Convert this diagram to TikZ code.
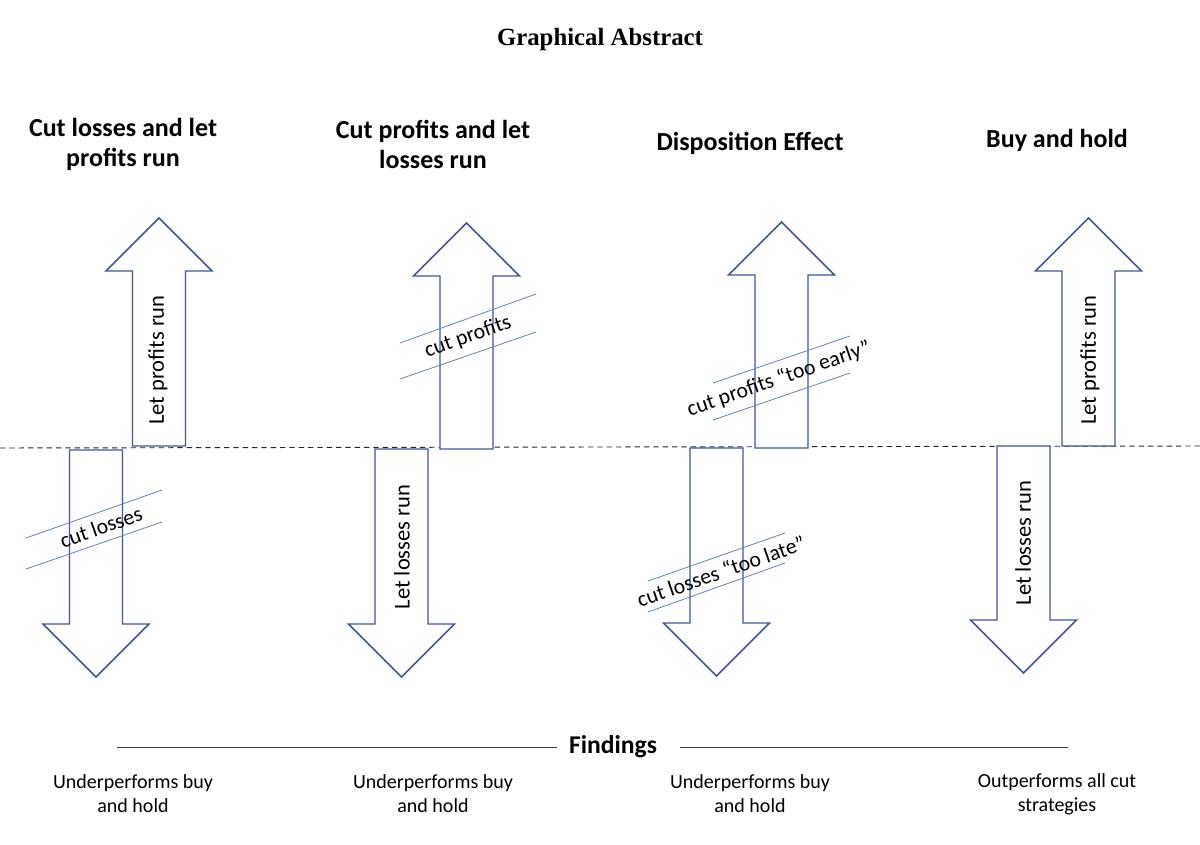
\documentclass[tikz,border=0pt]{standalone}
\usepackage{fontspec}
\setmainfont{Carlito}
\newfontfamily\timesfont{Liberation Serif}
\definecolor{arrowblue}{RGB}{66,86,155}
\definecolor{cutblue}{RGB}{98,128,200}
\definecolor{findgray}{RGB}{60,60,60}
\newcommand{\myUpArrow}[3]{%
  \draw[arr] ({#1-26.5},#3) -- ({#1-26.5},{#2+53}) -- ({#1-53},{#2+53}) -- (#1,#2)
    -- ({#1+53},{#2+53}) -- ({#1+26.5},{#2+53}) -- ({#1+26.5},#3) -- cycle;}
\newcommand{\myDownArrow}[3]{%
  \draw[arr] ({#1-26.5},#2) -- ({#1-26.5},{#3-53}) -- ({#1-53},{#3-53}) -- (#1,#3)
    -- ({#1+53},{#3-53}) -- ({#1+26.5},{#3-53}) -- ({#1+26.5},#2) -- cycle;}
\begin{document}
\begin{tikzpicture}[x=0.75pt,y=-0.75pt,
  arr/.style={draw=arrowblue, line width=1.1pt, fill=white, line join=miter},
  cutline/.style={draw=cutblue, line width=0.6pt},
  coltitle/.style={font=\fontsize{19.5}{22.5}\selectfont\bfseries, align=center, inner sep=0pt},
  arrlabel/.style={font=\fontsize{16.9}{20}\selectfont, rotate=90, inner sep=0pt},
  cutlabel/.style={font=\fontsize{16.3}{19}\selectfont, inner sep=0pt},
  findtext/.style={font=\fontsize{15}{18}\selectfont, align=center, inner sep=0pt},
  dashline/.style={draw=black!85, line width=0.7pt, dash pattern=on 4pt off 3pt},
  findline/.style={draw=findgray, line width=0.7pt}]
\useasboundingbox (0,0) rectangle (1200,845);

% title
\node[font=\timesfont\fontsize{18.6}{21}\selectfont\bfseries, inner sep=0pt] (title) at (600,40) {Graphical Abstract};

% column titles
\node[coltitle] (t1) at (123,144) {Cut losses and let\\profits run};
\node[coltitle] (t2) at (433,144) {Cut profits and let\\losses run};
\node[coltitle] (t3) at (750,143) {Disposition Effect};
\node[coltitle] (t4) at (1057,140) {Buy and hold};

% dashed baseline
\coordinate (dl) at (0,448);
\coordinate (dr) at (1200,446);
\draw[dashline] (dl) -- (dr);

% arrows
\myUpArrow{159}{218}{446}
\myDownArrow{96}{450}{677}
\myUpArrow{466.5}{223}{449}
\myDownArrow{401.5}{449}{677}
\myUpArrow{781.5}{222}{448}
\myDownArrow{716.5}{448}{676}
\myUpArrow{1088.5}{218}{446}
\myDownArrow{1023.5}{446}{673}

% arrow labels
\node[arrlabel] (lp1) at (158,360) {Let profits run};
\node[arrlabel] (ll2) at (402,547) {Let losses run};
\node[arrlabel] (lp4) at (1090,360) {Let profits run};
\node[arrlabel] (ll4) at (1023,543) {Let losses run};

% cut markers
\draw[cutline] (26,538) -- (162,490);
\draw[cutline] (26,569) -- (162,522);
\node[cutlabel, rotate=19.4] (cl1) at (101,527) {cut losses};

\draw[cutline] (400,343) -- (536,294);
\draw[cutline] (400,379) -- (536,332);
\node[cutlabel, rotate=19.6] (cp2) at (468,337) {cut profits};

\draw[cutline] (713,383) -- (850,336);
\draw[cutline] (713,420) -- (850,373);
\node[cutlabel, rotate=19] (cp3) at (779,379) {cut profits “too early”};

\draw[cutline] (648,581) -- (785,533);
\draw[cutline] (648,612) -- (785,563);
\node[cutlabel, rotate=19.3] (cl3) at (721,571) {cut losses “too late”};

% findings
\node[font=\fontsize{19.2}{22}\selectfont\bfseries, inner sep=0pt] (find) at (613,747) {Findings};
\coordinate (fl) at (117,747);
\coordinate (fr) at (1068,747);
\draw[findline] (fl) -- (find.west -| 557,747);
\draw[findline] (find.east -| 680,747) -- (fr);

\node[findtext] (f1) at (133,794) {Underperforms buy\\and hold};
\node[findtext] (f2) at (433,794) {Underperforms buy\\and hold};
\node[findtext] (f3) at (750,794) {Underperforms buy\\and hold};
\node[findtext] (f4) at (1057,794) {Outperforms all cut\\strategies};
\end{tikzpicture}
\end{document}
